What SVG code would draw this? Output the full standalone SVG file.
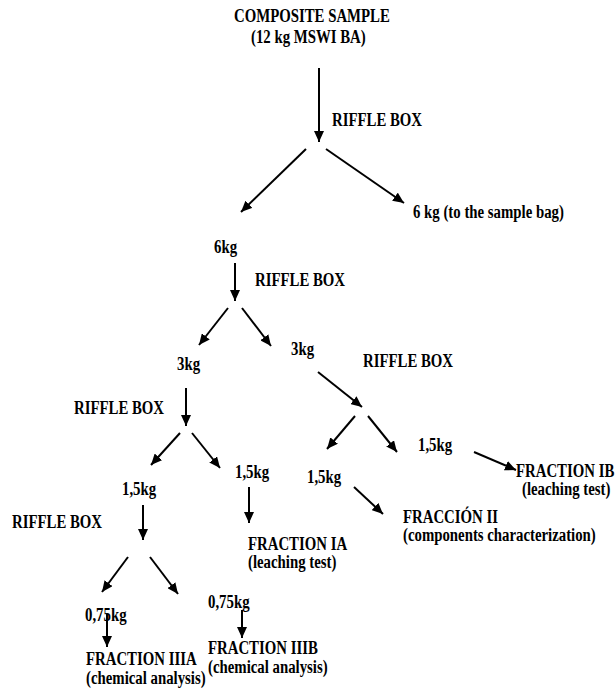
<svg xmlns="http://www.w3.org/2000/svg" width="616" height="691" viewBox="0 0 616 691">
<style>
text{font-family:"Liberation Serif","Times New Roman",serif;font-weight:bold;font-size:19px;fill:#000}
.c{stroke:#000;stroke-width:2;fill:none;marker-end:url(#ah)}
</style>
<defs>
<marker id="ah" markerUnits="userSpaceOnUse" markerWidth="12" markerHeight="10" refX="11" refY="5" orient="auto">
<path d="M0,0 L11,5 L0,10 z" fill="#000"/>
</marker>
</defs>
<rect width="616" height="691" fill="#fff"/>
<g id="connectors">
<line class="c" x1="319" y1="68" x2="319" y2="142"/>
<line class="c" x1="306" y1="149" x2="241" y2="212"/>
<line class="c" x1="326" y1="149" x2="404" y2="203"/>
<line class="c" x1="235" y1="263" x2="235" y2="301"/>
<line class="c" x1="228" y1="308" x2="199" y2="345"/>
<line class="c" x1="242" y1="308" x2="271" y2="346"/>
<line class="c" x1="186" y1="388" x2="186" y2="426"/>
<line class="c" x1="180" y1="433" x2="151" y2="465"/>
<line class="c" x1="192" y1="433" x2="220" y2="468"/>
<line class="c" x1="318" y1="372" x2="362" y2="407"/>
<line class="c" x1="355" y1="416" x2="327" y2="449"/>
<line class="c" x1="368" y1="416" x2="397" y2="452"/>
<line class="c" x1="474" y1="452" x2="516" y2="470"/>
<line class="c" x1="354" y1="487" x2="383" y2="514"/>
<line class="c" x1="249" y1="487" x2="249" y2="523"/>
<line class="c" x1="143" y1="505" x2="143" y2="540"/>
<line class="c" x1="128" y1="557" x2="102" y2="592"/>
<line class="c" x1="150" y1="557" x2="178" y2="594"/>
<line class="c" x1="107" y1="614" x2="107" y2="647"/>
<line class="c" x1="242" y1="610" x2="242" y2="638"/>
</g>
<g id="composite"><text transform="translate(234 22) scale(0.78 1)">COMPOSITE SAMPLE</text><text transform="translate(251 43) scale(0.78 1)">(12 kg MSWI BA)</text></g>
<g id="riffle1"><text transform="translate(332 126) scale(0.78 1)">RIFFLE BOX</text></g>
<g id="bag"><text transform="translate(413 218) scale(0.78 1)">6 kg (to the sample bag)</text></g>
<g id="n6kg"><text transform="translate(214 253) scale(0.78 1)">6kg</text></g>
<g id="riffle2"><text transform="translate(255 286) scale(0.78 1)">RIFFLE BOX</text></g>
<g id="n3kgR"><text transform="translate(291 355) scale(0.78 1)">3kg</text></g>
<g id="riffle3"><text transform="translate(363 367) scale(0.78 1)">RIFFLE BOX</text></g>
<g id="n3kgL"><text transform="translate(177 370) scale(0.78 1)">3kg</text></g>
<g id="riffle4"><text transform="translate(74 414) scale(0.78 1)">RIFFLE BOX</text></g>
<g id="n15kgRR"><text transform="translate(418 451) scale(0.78 1)">1,5kg</text></g>
<g id="fracIB"><text transform="translate(516 477) scale(0.78 1)">FRACTION IB</text><text transform="translate(522 495) scale(0.78 1)">(leaching test)</text></g>
<g id="n15kgRL"><text transform="translate(307 483) scale(0.78 1)">1,5kg</text></g>
<g id="fracII"><text transform="translate(403 523) scale(0.78 1)">FRACCIÓN II</text><text transform="translate(403 541) scale(0.78 1)">(components characterization)</text></g>
<g id="n15kgM"><text transform="translate(235 478) scale(0.78 1)">1,5kg</text></g>
<g id="fracIA"><text transform="translate(248 550) scale(0.78 1)">FRACTION IA</text><text transform="translate(248 568) scale(0.78 1)">(leaching test)</text></g>
<g id="n15kgL"><text transform="translate(122 495) scale(0.78 1)">1,5kg</text></g>
<g id="riffle5"><text transform="translate(12 528) scale(0.78 1)">RIFFLE BOX</text></g>
<g id="n075L"><text transform="translate(85 621) scale(0.78 1)">0,75kg</text></g>
<g id="fracIIIA"><text transform="translate(86 665) scale(0.78 1)">FRACTION IIIA</text><text transform="translate(86 684) scale(0.78 1)">(chemical analysis)</text></g>
<g id="n075R"><text transform="translate(208 608) scale(0.78 1)">0,75kg</text></g>
<g id="fracIIIB"><text transform="translate(208 654) scale(0.78 1)">FRACTION IIIB</text><text transform="translate(208 673) scale(0.78 1)">(chemical analysis)</text></g>
</svg>
